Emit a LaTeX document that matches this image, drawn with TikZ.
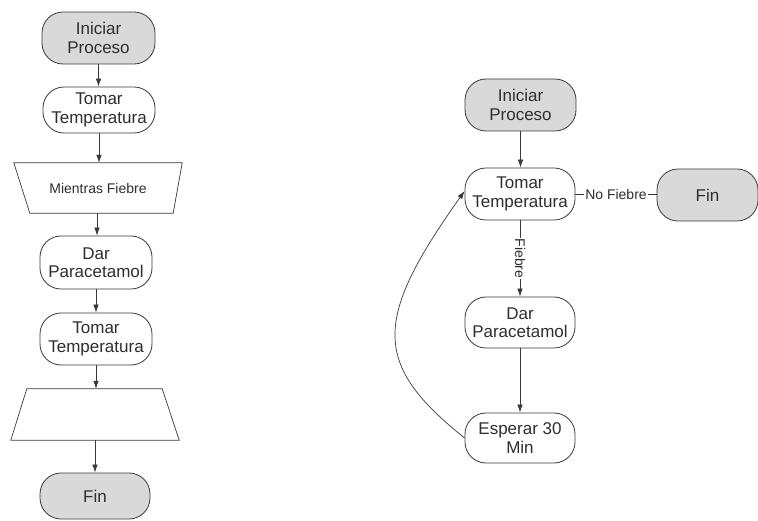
\documentclass[tikz,border=0pt]{standalone}
\usepackage{fontspec}
\setmainfont{Liberation Sans}
\usetikzlibrary{arrows.meta}
\definecolor{linegray}{HTML}{3A3A3A}
\definecolor{fillgray}{HTML}{D9D9D9}
\definecolor{txtgray}{HTML}{2E2E2E}
\begin{document}
\begin{tikzpicture}[x=1pt,y=-1pt,
  every node/.style={text=txtgray},
  proc/.style={draw=linegray, line width=0.8pt, rounded corners=21pt, fill=white,
    align=center, inner sep=0pt, font=\fontsize{17}{18.5}\selectfont},
  term/.style={proc, fill=fillgray},
  trapbox/.style={draw=none, inner sep=0pt, align=center, font=\fontsize{14}{16}\selectfont},
  conn/.style={draw=linegray, line width=0.7pt},
  arr/.style={conn, -{Latex[length=8pt,width=5.5pt]}},
  lbl/.style={fill=white, inner sep=1pt, font=\fontsize{14}{16}\selectfont}
]
\useasboundingbox (0,0) rectangle (758,521);

% ---------- left column ----------
\node[term, minimum width=113pt, minimum height=52pt] (l1) at (98.5,38) {Iniciar\\Proceso};
\node[proc, minimum width=112pt, minimum height=46pt] (l2) at (99,110) {Tomar\\Temperatura};
\node[trapbox, minimum width=168pt, minimum height=50pt] (l3) at (98,188) {Mientras Fiebre};
\draw[conn, fill=white] (l3.north west) -- (l3.north east) -- ([xshift=-9pt]l3.south east)
  -- ([xshift=16pt]l3.south west) -- cycle;
\node[trapbox] at (l3.center) {Mientras Fiebre};
\node[proc, minimum width=112pt, minimum height=53pt] (l4) at (96,262.5) {Dar\\Paracetamol};
\node[proc, minimum width=112pt, minimum height=52pt] (l5) at (96,339) {Tomar\\Temperatura};
\node[trapbox, minimum width=168pt, minimum height=51pt] (l6) at (95,414.5) {};
\draw[conn, fill=white] ([xshift=16pt]l6.north west) -- ([xshift=-17pt]l6.north east)
  -- (l6.south east) -- (l6.south west) -- cycle;
\node[term, minimum width=110pt, minimum height=46pt] (l7) at (95,496) {Fin};

\draw[arr] (l1.south) -- (l1.south |- l2.north);
\draw[arr] (l2.south) -- (l2.south |- l3.north);
\draw[arr] ([xshift=-1pt]l3.south) -- ([xshift=-1pt]l3.south |- l4.north);
\draw[arr] (l4.south) -- (l4.south |- l5.north);
\draw[arr] (l5.south) -- (l5.south |- l6.north);
\draw[arr] (l6.south) -- (l6.south |- l7.north);

% ---------- right diagram ----------
\node[term, minimum width=111pt, minimum height=52pt] (r1) at (520.5,105) {Iniciar\\Proceso};
\node[proc, minimum width=110pt, minimum height=52pt] (r2) at (520,194) {Tomar\\Temperatura};
\node[term, minimum width=101pt, minimum height=52pt] (r3) at (707.5,195) {Fin};
\node[proc, minimum width=110pt, minimum height=51pt] (r4) at (520,322.5) {Dar\\Paracetamol};
\node[proc, minimum width=110pt, minimum height=50pt] (r5) at (520,438) {Esperar 30\\Min};

\draw[arr] (r1.south) -- (r1.south |- r2.north);
\draw[conn] (r2.east) -- node[lbl] {No Fiebre} (r2.east -| r3.west);
\draw[arr] (r2.south) -- node[lbl, rotate=-90] {Fiebre} (r2.south |- r4.north);
\draw[arr] (r4.south) -- (r4.south |- r5.north);
\draw[arr] (r5.west) .. controls (372,364) and (373,320) .. ([yshift=3pt]r2.west);
\end{tikzpicture}
\end{document}
